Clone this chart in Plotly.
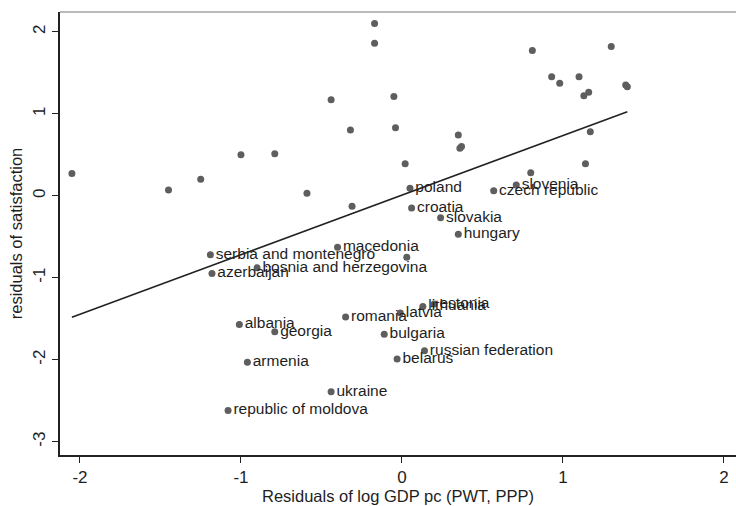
import numpy as np
import plotly.graph_objects as go

# unlabeled countries (residuals)
other_x = [-2.05, -1.45, -1.25, -1.00, -0.79, -0.59, -0.44, -0.32, -0.31, -0.17,
           -0.17, -0.05, -0.04, 0.02, 0.03, 0.35, 0.36, 0.37, 0.80, 0.81,
           0.93, 0.98, 1.10, 1.13, 1.16, 1.14, 1.17, 1.30, 1.39, 1.40]
other_y = [0.27, 0.07, 0.20, 0.50, 0.51, 0.03, 1.17, 0.80, -0.13, 2.10,
           1.86, 1.21, 0.83, 0.39, -0.75, 0.74, 0.58, 0.60, 0.28, 1.77,
           1.45, 1.37, 1.45, 1.22, 1.26, 0.39, 0.78, 1.82, 1.35, 1.33]

# labeled countries
names = ["poland", "croatia", "slovakia", "hungary", "czech republic", "slovenia",
         "serbia and montenegro", "azerbaijan", "bosnia and herzegovina", "macedonia",
         "lithuania", "estonia", "latvia", "bulgaria", "russian federation", "belarus",
         "albania", "georgia", "romania", "armenia", "ukraine", "republic of moldova"]
lab_x = [0.05, 0.06, 0.24, 0.35, 0.57, 0.71,
         -1.19, -1.18, -0.90, -0.40,
         0.13, 0.20, -0.01, -0.11, 0.14, -0.03,
         -1.01, -0.79, -0.35, -0.96, -0.44, -1.08]
lab_y = [0.09, -0.15, -0.27, -0.47, 0.06, 0.13,
         -0.72, -0.95, -0.88, -0.63,
         -1.35, -1.32, -1.43, -1.69, -1.89, -1.99,
         -1.57, -1.66, -1.48, -2.03, -2.39, -2.62]

x_ticks = [-2, -1, 0, 1, 2]
y_ticks = [-3, -2, -1, 0, 1, 2]

# linear fit through all countries
all_x = np.array(other_x + lab_x)
all_y = np.array(other_y + lab_y)
slope, intercept = np.polyfit(all_x, all_y, 1)
fit_x = np.array([all_x.min(), all_x.max()])
fit_y = intercept + slope * fit_x

dot_color = "#5e5e5e"
font = "Liberation Sans, Arial, sans-serif"

fig = go.Figure()

fig.add_trace(go.Scatter(
    x=other_x, y=other_y, mode="markers",
    marker=dict(color=dot_color, size=7),
    showlegend=False
))

fig.add_trace(go.Scatter(
    x=lab_x, y=lab_y, mode="markers+text",
    text=names, textposition="middle right",
    textfont=dict(family=font, size=15.5, color="#1e1e1e"),
    marker=dict(color=dot_color, size=7),
    showlegend=False
))

fig.add_trace(go.Scatter(
    x=fit_x, y=fit_y, mode="lines",
    line=dict(color="#222222", width=1.6),
    showlegend=False
))

fig.update_layout(
    width=736, height=506,
    margin=dict(l=60, r=0, t=12, b=51),
    plot_bgcolor="white", paper_bgcolor="white",
    font=dict(family=font, size=17, color="#1e1e1e"),
    shapes=[dict(type="line", xref="paper", yref="paper", x0=0, x1=1, y0=1, y1=1,
                 line=dict(color="#777777", width=1.2))]
)

fig.update_xaxes(
    range=[-2.124, 2.075], tickvals=x_ticks, ticktext=[str(t) for t in x_ticks],
    ticks="outside", ticklen=6, tickcolor="#222222",
    showline=True, linecolor="#222222", linewidth=1.5,
    showgrid=False, zeroline=False, automargin=False,
    title=dict(text="Residuals of log GDP pc (PWT, PPP)", standoff=0,
               font=dict(size=16.5))
)

fig.update_yaxes(
    range=[-3.162, 2.240], tickvals=y_ticks, ticktext=[str(t) for t in y_ticks],
    tickangle=-90,
    ticks="outside", ticklen=6, tickcolor="#222222",
    showline=True, linecolor="#222222", linewidth=1.5,
    showgrid=False, zeroline=False, automargin=False,
    title=dict(text="residuals of satisfaction", standoff=4,
               font=dict(size=16.5))
)

# drop the default page margin so the figure sits at the window's corner
fig.write_html("out.html", config={"displayModeBar": False},
               post_script="document.body.style.margin='0';")
